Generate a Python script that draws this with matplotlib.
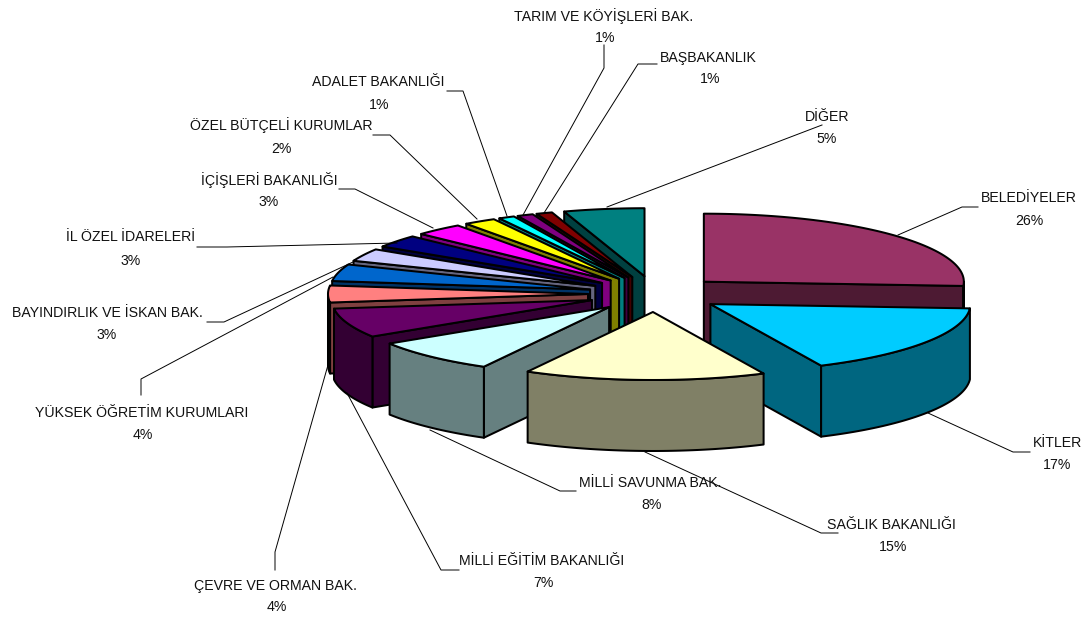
# -*- coding: utf-8 -*-
# exploded 3D pie, drawn by hand because matplotlib has no 3D pie
import matplotlib
matplotlib.use('Agg')
import matplotlib.pyplot as plt
from matplotlib.patches import Polygon
import numpy as np

plt.rcParams['font.family'] = ['Liberation Sans', 'DejaVu Sans']

names = ['BELEDİYELER', 'KİTLER', 'SAĞLIK BAKANLIĞI', 'MİLLİ SAVUNMA BAK.',
         'MİLLİ EĞİTİM BAKANLIĞI', 'ÇEVRE VE ORMAN BAK.', 'YÜKSEK ÖĞRETİM KURUMLARI',
         'BAYINDIRLIK VE İSKAN BAK.', 'İL ÖZEL İDARELERİ', 'İÇİŞLERİ BAKANLIĞI',
         'ÖZEL BÜTÇELİ KURUMLAR', 'ADALET BAKANLIĞI', 'TARIM VE KÖYİŞLERİ BAK.',
         'BAŞBAKANLIK', 'DİĞER']
values = [26, 17, 15, 8, 7, 4, 4, 3, 3, 3, 2, 1, 1, 1, 5]
colors = ['#993366', '#00CCFF', '#FFFFCC', '#CCFFFF', '#660066', '#FF8080', '#0066CC',
          '#CCCCFF', '#000080', '#FF00FF', '#FFFF00', '#00FFFF', '#800080', '#800000',
          '#008080']

# label centres, name line and percent line
name_xy = [(1029, 197), (1057, 442), (891, 524), (650, 482), (542, 560), (275, 585),
           (142, 412), (107, 312), (131, 236), (269, 179), (281, 124), (378, 81),
           (604, 15), (708, 57), (827, 116)]
pct_xy = [(1029, 220), (1057, 464), (893, 546), (652, 504), (543, 582), (277, 606),
          (143, 434), (107, 334), (131, 260), (269, 201), (281, 148), (379, 104),
          (605, 37), (710, 78), (827, 138)]
leaders = [[(978, 207), (962, 207), (898, 235)],
           [(1030, 452), (1013, 452), (928, 413)],
           [(838, 533), (821, 533), (645, 452)],
           [(576, 491), (560, 491), (430, 430)],
           [(459, 570), (441, 570), (347, 393)],
           [(275, 570), (275, 552), (328, 365)],
           [(141, 395), (141, 379), (333, 277)],
           [(207, 322), (224, 322), (353, 262)],
           [(197, 247), (227, 247), (397, 243)],
           [(339, 189), (355, 189), (433, 228)],
           [(373, 135), (390, 135), (477, 219)],
           [(447, 91), (463, 91), (507, 216)],
           [(604, 45), (604, 68), (523, 215)],
           [(657, 64), (638, 64), (544, 213)],
           [(822, 125), (607, 207)]]

# pie geometry in pixels
cx, cy = 655, 294
rx, ry = 260, 68
thick = 71
explode_x, explode_y = 67, 18


def pt(x0, y0, a):
    return x0 + rx * np.sin(a), y0 - ry * np.cos(a)


def darker(c):
    return tuple(v * 0.5 for v in matplotlib.colors.to_rgb(c))


fig = plt.figure(figsize=(10.86, 6.19), dpi=100)
ax = fig.add_axes([0, 0, 1, 1])
ax.set_xlim(0, 1086)
ax.set_ylim(619, 0)
ax.axis('off')

total = float(sum(values))
edges = np.cumsum([0] + values) / total * 2 * np.pi
mids = (edges[:-1] + edges[1:]) / 2

# paint back slices first
for i in np.argsort(-np.cos(mids)):
    a0, a1, m = edges[i], edges[i + 1], mids[i]
    x0 = cx + explode_x * np.sin(m)
    y0 = cy - explode_y * np.cos(m)
    side = darker(colors[i])
    kw = dict(edgecolor='black', linewidth=1.45, joinstyle='round')

    # radial walls: the one facing the viewer depends on the side of the pie
    for a in (a0, a1):
        px, py = pt(x0, y0, a)
        if (a == a0 and np.sin(a) < 0) or (a == a1 and np.sin(a) > 0):
            ax.add_patch(Polygon([(x0, y0), (px, py), (px, py + thick), (x0, y0 + thick)],
                                 facecolor=side, **kw))

    # outer wall, only the front half of the rim shows
    lo, hi = max(a0, np.pi / 2), min(a1, 3 * np.pi / 2)
    if hi > lo:
        t = np.linspace(lo, hi, 60)
        xs, ys = pt(x0, y0, t)
        rim = list(zip(xs, ys)) + list(zip(xs[::-1], ys[::-1] + thick))
        ax.add_patch(Polygon(rim, facecolor=side, **kw))

    # top face
    t = np.linspace(a0, a1, 80)
    xs, ys = pt(x0, y0, t)
    ax.add_patch(Polygon([(x0, y0)] + list(zip(xs, ys)), facecolor=colors[i], **kw))

for i in range(len(names)):
    xs, ys = zip(*leaders[i])
    ax.plot(xs, ys, color='black', lw=0.7, zorder=5)
    ax.text(name_xy[i][0], name_xy[i][1] + 1, names[i], ha='center', va='center',
            fontsize=10.2, color='#111111', zorder=6)
    ax.text(pct_xy[i][0], pct_xy[i][1] + 1, '%d%%' % values[i], ha='center', va='center',
            fontsize=10.2, color='#111111', zorder=6)

fig.savefig('out.png', dpi=100)
